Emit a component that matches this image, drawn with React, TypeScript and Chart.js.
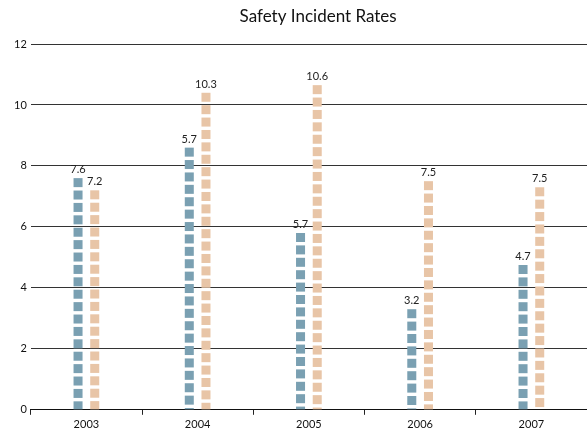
import React, { useEffect, useRef } from "react";
import { Chart, registerables } from "chart.js";

Chart.register(...registerables);

const years = ["2003", "2004", "2005", "2006", "2007"];
const seriesA = [7.6, 8.6, 5.8, 3.3, 4.75];
const seriesB = [7.2, 10.4, 10.65, 7.5, 7.3];
const labelsA = ["7.6", "5.7", "5.7", "3.2", "4.7"];
const labelsB = ["7.2", "10.3", "10.6", "7.5", "7.5"];
const yTicks = [0, 2, 4, 6, 8, 10, 12];
const TITLE = "Safety Incident Rates";

const colorA = "#7aa0b2";
const colorB = "#e8c5a7";
const FONT = "Lato, 'DejaVu Sans', sans-serif";

const squaresPlugin = {
  id: "squares",
  afterDatasetsDraw(chart: any) {
    const ctx = chart.ctx;
    const sq = 9;
    const period = 12.4;
    chart.data.datasets.forEach((ds: any, di: number) => {
      const meta = chart.getDatasetMeta(di);
      const lbls = di === 0 ? labelsA : labelsB;
      meta.data.forEach((bar: any, i: number) => {
        const { x, y, base, width } = bar.getProps(["x", "y", "base", "width"], true);
        ctx.save();
        ctx.fillStyle = ds.squareColor;
        let top = y;
        while (top < base - 0.5) {
          const h = Math.min(sq, base - top);
          ctx.fillRect(x - width / 2, top, width, h);
          top += period;
        }
        ctx.fillStyle = "#222";
        ctx.font = `11px ${FONT}`;
        ctx.textAlign = "center";
        ctx.textBaseline = "bottom";
        ctx.fillText(lbls[i], x, y - 3);
        ctx.restore();
      });
    });
  },
};

const titlePlugin = {
  id: "customTitle",
  afterDraw(chart: any) {
    const ctx = chart.ctx;
    ctx.save();
    ctx.fillStyle = "#111";
    ctx.font = `17px ${FONT}`;
    ctx.textAlign = "center";
    ctx.textBaseline = "middle";
    ctx.fillText(TITLE, chart.width * 0.542, 17);
    ctx.restore();
  },
};

export default function App() {
  const ref = useRef<HTMLCanvasElement>(null);
  useEffect(() => {
    document.body.style.margin = "0";
    const chart = new Chart(ref.current!, {
      type: "bar",
      data: {
        labels: years,
        datasets: [
          {
            label: "A",
            data: seriesA,
            backgroundColor: "transparent",
            squareColor: colorA,
            categoryPercentage: 0.3,
            barPercentage: 0.54,
          } as any,
          {
            label: "B",
            data: seriesB,
            backgroundColor: "transparent",
            squareColor: colorB,
            categoryPercentage: 0.3,
            barPercentage: 0.54,
          } as any,
        ],
      },
      options: {
        animation: false,
        responsive: false,
        maintainAspectRatio: false,
        layout: { padding: { left: 10, right: 0, top: 44, bottom: 0 } },
        plugins: {
          legend: { display: false },
          tooltip: { enabled: false },
          title: { display: false },
        },
        scales: {
          x: {
            grid: {
              display: true,
              drawOnChartArea: false,
              drawTicks: true,
              tickLength: 5,
              color: "#222",
              offset: true,
            },
            border: { display: true, color: "#111", width: 1 },
            ticks: {
              color: "#111",
              font: { family: FONT, size: 11 },
              padding: 3,
            },
          },
          y: {
            min: 0,
            max: 12,
            afterBuildTicks: (axis: any) => {
              axis.ticks = yTicks.map((v) => ({ value: v }));
            },
            grid: {
              color: "#333",
              lineWidth: 1,
              drawTicks: false,
            },
            border: { display: false },
            ticks: {
              color: "#111",
              font: { family: FONT, size: 11 },
              padding: 4,
            },
          },
        },
      },
      plugins: [squaresPlugin, titlePlugin],
    });
    return () => chart.destroy();
  }, []);
  return (
    <div style={{ width: 587, height: 434 }}>
      <canvas ref={ref} width={587} height={434} style={{ width: 587, height: 434 }} />
    </div>
  );
}
